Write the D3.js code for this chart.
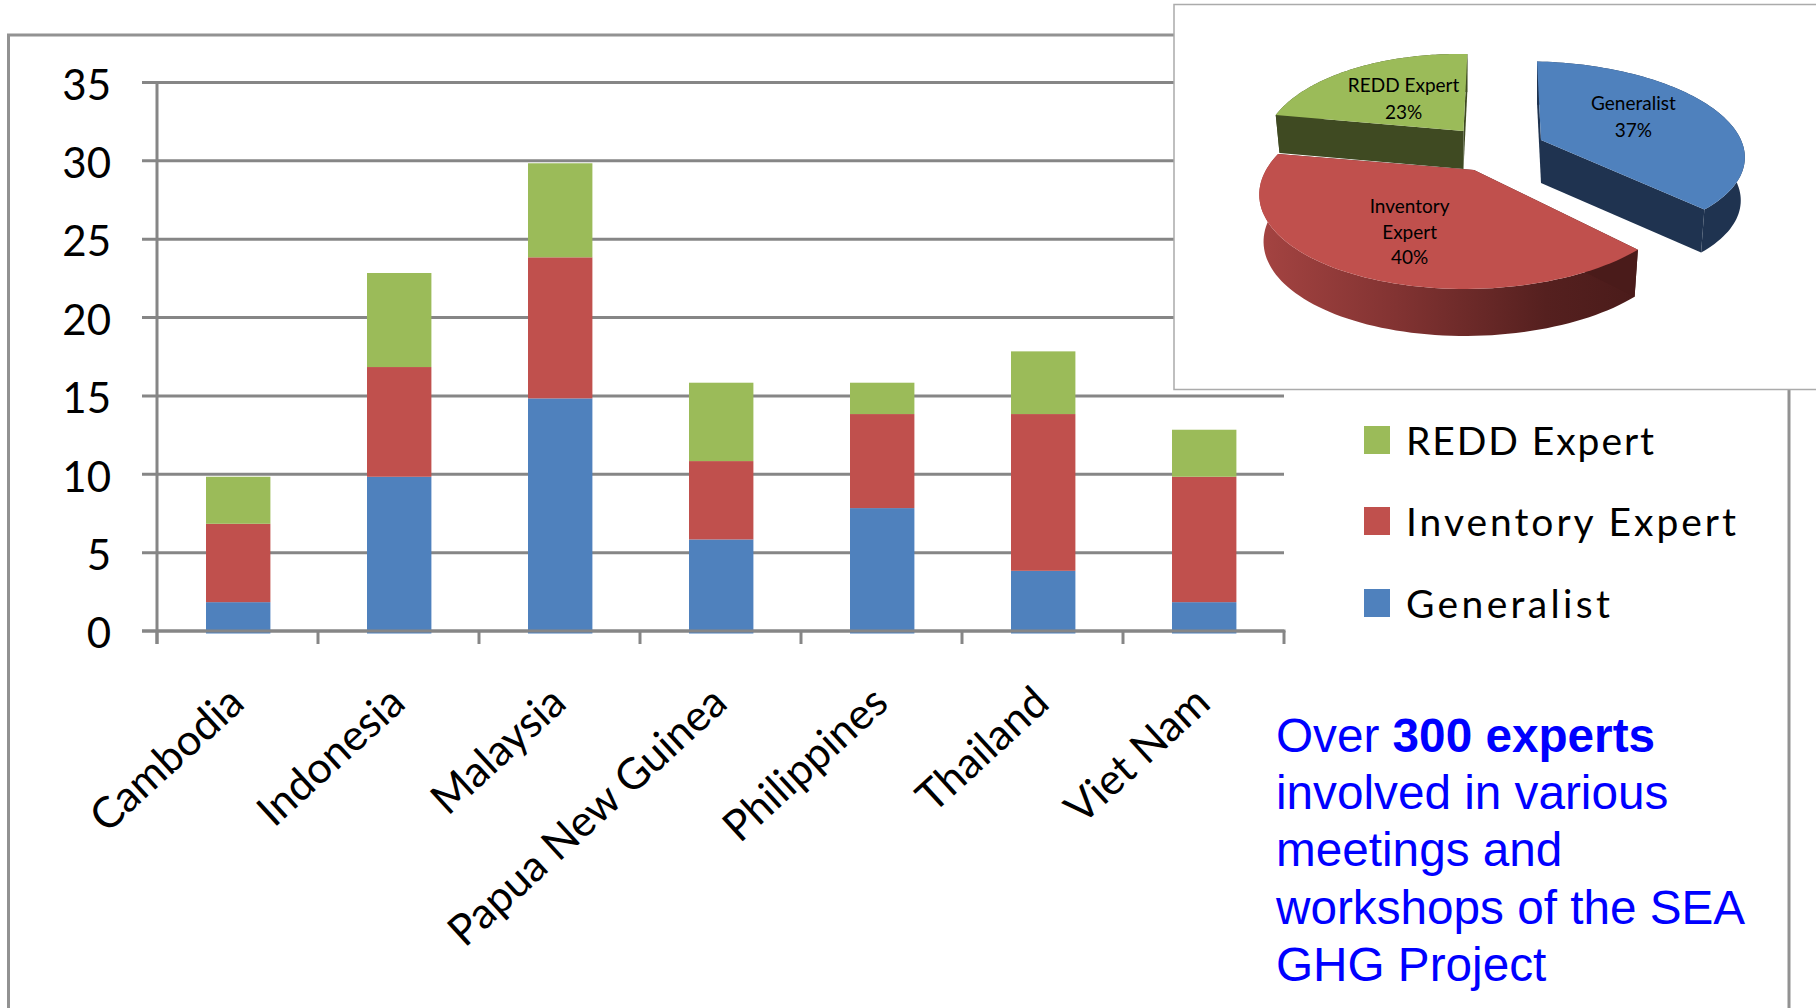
<!DOCTYPE html>
<html><head><meta charset="utf-8">
<script src="https://cdnjs.cloudflare.com/ajax/libs/d3/7.8.5/d3.min.js"></script>
<style>html,body{margin:0;padding:0;background:#fff;overflow:hidden}svg{display:block}</style>
</head><body><svg id="c" width="1816" height="1008"></svg>
<script>
const categories = ["Cambodia","Indonesia","Malaysia","Papua New Guinea","Philippines","Thailand","Viet Nam"];
const generalist = [2,10,15,6,8,4,2];
const inventory  = [5,7,9,5,6,10,8];
const redd       = [3,6,6,5,2,4,3];
const yTicks = [0,5,10,15,20,25,30,35];
const seriesNames = ["Generalist","Inventory Expert","REDD Expert"];
const seriesColors = ["#4f81bd","#c0504d","#9bbb59"];
const pieLabels = ["Generalist","Inventory Expert","REDD Expert"];
const pieShares = [37,40,23];
const noteLines = [[["Over ",400],["300 experts",700]],[["involved in various",400]],[["meetings and",400]],[["workshops of the SEA",400]],[["GHG Project",400]]];

const svg = d3.select("#c");
const GRID="#868686", FRAME="#929292", FONT="Lato, sans-serif";
const x0=157,x1=1284;
const x = d3.scaleBand().domain(categories).range([x0,x1]).paddingInner(0.6).paddingOuter(0.3);
const y = d3.scaleLinear().domain([0,35]).range([631,82.4]);

// outer frame
svg.append("path").attr("d","M8.5,1008V35H1200").attr("fill","none").attr("stroke",FRAME).attr("stroke-width",3);
svg.append("path").attr("d","M1789,385V1008").attr("fill","none").attr("stroke",FRAME).attr("stroke-width",3);

// grid and y axis
svg.append("g").selectAll("line").data(yTicks).join("line")
  .attr("x1",142).attr("x2",x1).attr("y1",d=>y(d)).attr("y2",d=>y(d)).attr("stroke",GRID).attr("stroke-width",3);
const yAxis = svg.append("g").attr("transform",`translate(${x0},0)`)
  .call(d3.axisLeft(y).tickValues(yTicks).tickSize(0).tickPadding(46));
yAxis.select(".domain").remove();
yAxis.selectAll("text").attr("font-family",FONT).attr("font-size",42).attr("fill","#000").attr("dy","0.40em");

// stacked bars
const rows = categories.map((c,i)=>({c,Generalist:generalist[i],"Inventory Expert":inventory[i],"REDD Expert":redd[i]}));
const stack = d3.stack().keys(seriesNames)(rows);
svg.append("g").attr("transform","translate(0.7,2.5)").selectAll("g").data(stack).join("g")
  .attr("fill",(d,i)=>seriesColors[i])
  .selectAll("rect").data(d=>d).join("rect")
  .attr("x",d=>x(d.data.c)).attr("width",x.bandwidth())
  .attr("y",d=>y(d[1])).attr("height",d=>y(d[0])-y(d[1]));

// axis lines
svg.append("line").attr("x1",x0).attr("x2",x0).attr("y1",y(35)).attr("y2",644).attr("stroke",GRID).attr("stroke-width",3);
svg.append("line").attr("x1",142).attr("x2",x1+1.5).attr("y1",y(0)).attr("y2",y(0)).attr("stroke",GRID).attr("stroke-width",3);
svg.append("g").selectAll("line").data(d3.range(categories.length+1)).join("line")
  .attr("x1",i=>x0+i*x.step()).attr("x2",i=>x0+i*x.step()).attr("y1",y(0)).attr("y2",644)
  .attr("stroke",GRID).attr("stroke-width",3);

// category labels
svg.append("g").selectAll("text").data(categories).join("text")
  .attr("transform",d=>`translate(${x(d)+x.bandwidth()/2+9},${706}) rotate(-42.5)`)
  .attr("text-anchor","end").attr("font-family",FONT).attr("font-size",43).attr("fill","#000")
  .text(d=>d);

// legend
const legendOrder=[2,1,0], legendY=[426,507,589], legendWidth=[248,330,204];
const lg = svg.append("g").selectAll("g").data(legendOrder).join("g");
lg.append("rect").attr("x",1364).attr("y",(d,i)=>legendY[i]).attr("width",26).attr("height",28).attr("fill",d=>seriesColors[d]);
lg.append("text").attr("x",1406).attr("y",(d,i)=>legendY[i]+28.5).attr("font-family",FONT).attr("font-size",39)
  .attr("textLength",(d,i)=>legendWidth[i]).attr("lengthAdjust","spacing").attr("fill","#000").text(d=>seriesNames[d]);

// note
const note = svg.append("g").selectAll("text").data(noteLines).join("text")
  .attr("x",1276).attr("y",(d,i)=>751.6+i*57.3).attr("font-family","'Liberation Sans',Arial,sans-serif")
  .attr("font-size",47.7).attr("fill","#0000ff");
note.selectAll("tspan").data(d=>d).join("tspan").attr("font-weight",d=>d[1]).text(d=>d[0]);

// inset
svg.append("rect").attr("x",1174).attr("y",4.5).attr("width",700).attr("height",385).attr("fill","#fff").attr("stroke","#ababab").attr("stroke-width",1.5);

const defs = svg.append("defs");
const grad = defs.append("linearGradient").attr("id","redWall").attr("gradientUnits","userSpaceOnUse")
  .attr("x1",1265).attr("x2",1640).attr("y1",0).attr("y2",0);
[[0,"#a34341"],[0.35,"#823332"],[0.75,"#55201f"],[1,"#4a1b1a"]].forEach(s=>grad.append("stop").attr("offset",s[0]).attr("stop-color",s[1]));

const rad = Math.PI/180;
const arcs = d3.pie().sort(null).value(d=>d).startAngle(3*rad).endAngle(363*rad)(pieShares);
// projection settings per slice: Generalist, Inventory Expert, REDD Expert
const sliceGeom = [
 {cx:1541,cy:140,R:200,S:88,k:0.12,sh:0.17,depth:43,top:"#4f81bd",side:"#1f3350",wall:"#1f3350"},
 {cx:1474,cy:170,R:208,S:93.5,k:0.214,sh:-0.08,depth:47,top:"#c0504d",side:"#4a1b1a",wall:"url(#redWall)"},
 {cx:1463.5,cy:131,R:197,S:93.5,k:0.214,sh:0.06,depth:38,top:"#9bbb59",side:"#3f4a22",wall:"#3f4a22"}
];
const proj=(g,t)=>{const w=1+g.k*Math.cos(t),dy=-g.S*Math.cos(t)/w;return [g.cx+g.R*Math.sin(t)/w+g.sh*dy,g.cy+dy];};
const line=d3.line();
const pg = svg.append("g");
[2,0,1].forEach(i=>{
  const g=sliceGeom[i],a=arcs[i];
  const rim=d3.range(0,1.0001,1/80).map(f=>proj(g,a.startAngle+(a.endAngle-a.startAngle)*f));
  const down=p=>[p[0]+(g.cx-p[0])*0.02,p[1]+g.depth];
  const apex=[g.cx,g.cy];
  pg.append("path").attr("d",line([...rim,...rim.slice().reverse().map(down)])+"Z").attr("fill",g.wall);
  [rim[0],rim[rim.length-1]].forEach(p=>pg.append("path").attr("d",line([apex,p,down(p),down(apex)])+"Z").attr("fill",g.side));
  pg.append("path").attr("d",line([apex,...rim])+"Z").attr("fill",g.top);
});
const pieText=[
 {x:1403.6,lines:["REDD Expert","23%"],ys:[85.7,112]},
 {x:1633.4,lines:["Generalist","37%"],ys:[103,130]},
 {x:1409.6,lines:["Inventory","Expert","40%"],ys:[206,232,257]}
];
pieText.forEach(p=>p.lines.forEach((l,i)=>svg.append("text").attr("x",p.x).attr("y",p.ys[i]).attr("dy","0.35em")
  .attr("text-anchor","middle").attr("font-family",FONT).attr("font-size",19).attr("fill","#000").text(l)));
</script></body></html>
